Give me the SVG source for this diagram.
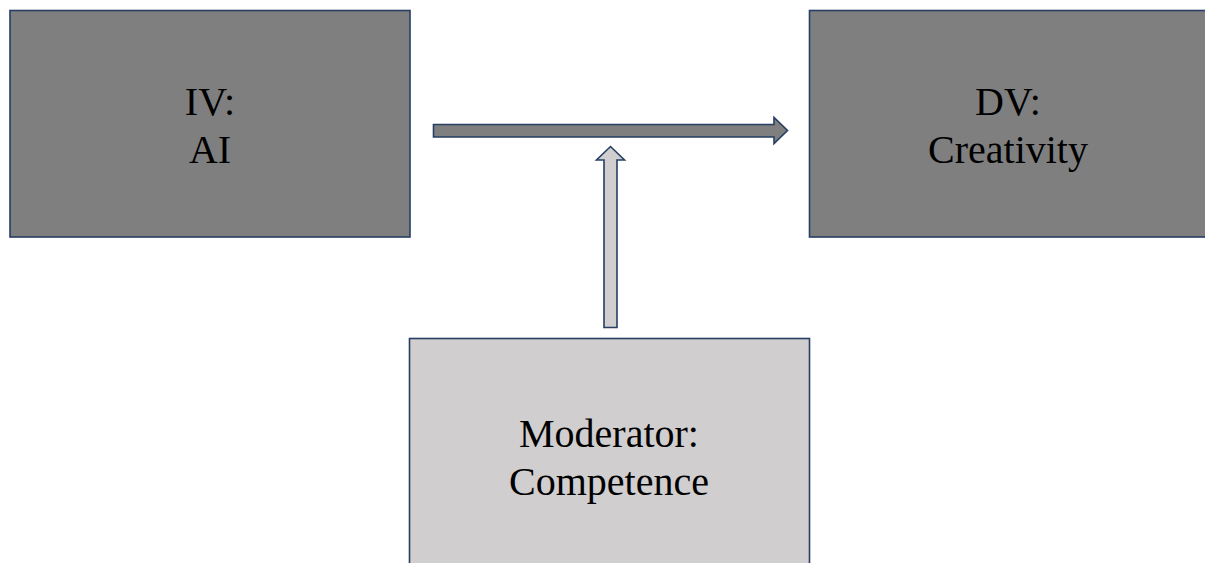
<svg xmlns="http://www.w3.org/2000/svg" width="1205" height="563" viewBox="0 0 1205 563">
<style>
.box{stroke:#263F63;stroke-width:1.6}
.dark{fill:#7F7F7F}
.light{fill:#D0CECE}
.lbl{font-family:"Liberation Serif","Times New Roman",serif;font-size:40px;fill:#000;text-anchor:middle}
.arr{stroke:#263F63;stroke-width:1.6;stroke-linejoin:miter}
</style>
<rect x="0" y="0" width="1205" height="563" fill="#fff"/>
<g id="iv">
<rect class="box dark" x="10" y="10.5" width="400" height="226.5"/>
<text class="lbl" x="210" y="115">IV:</text>
<text class="lbl" x="210" y="163">AI</text>
</g>
<g id="dv">
<rect class="box dark" x="809.5" y="10.5" width="400" height="226.5"/>
<text class="lbl" x="1008" y="115">DV:</text>
<text class="lbl" x="1008" y="163">Creativity</text>
</g>
<g id="moderator">
<rect class="box light" x="409.5" y="338.5" width="400" height="240"/>
<text class="lbl" x="609" y="447">Moderator:</text>
<text class="lbl" x="609" y="495">Competence</text>
</g>
<g id="connectors">
<path class="arr" fill="#7F7F7F" d="M433.5,124.5 H774 V117.5 L787.5,130.5 L774,143.5 V137 H433.5 Z"/>
<path class="arr" fill="#D0CECE" d="M604,327.5 V160 H596.5 L610.5,146.5 L624.5,160 H617 V327.5 Z"/>
</g>
</svg>
